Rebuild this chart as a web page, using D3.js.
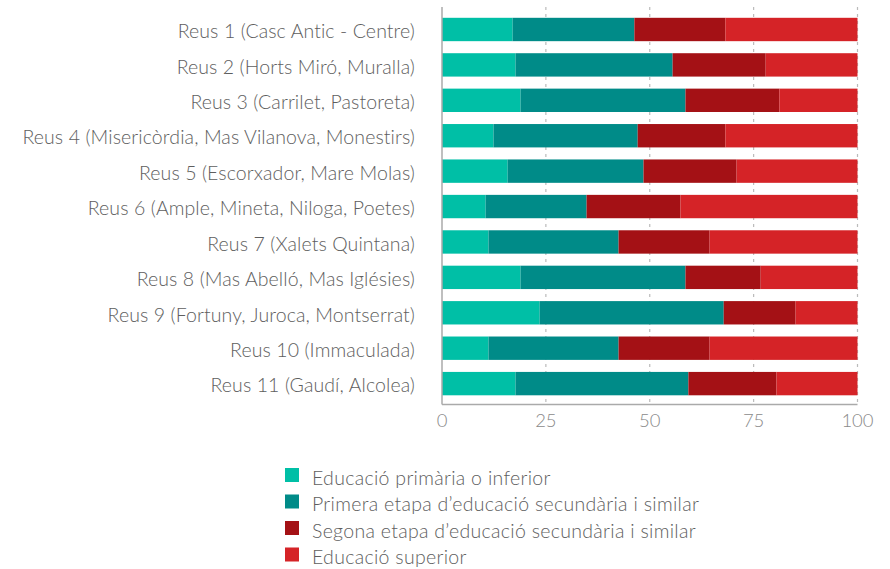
<!doctype html>
<html>
<head>
<meta charset="utf-8">
<script src="https://cdnjs.cloudflare.com/ajax/libs/d3/7.8.5/d3.min.js"></script>
<style>
  body { margin: 0; background: #fff; }
  text { font-family: Lato, "Open Sans", sans-serif; font-weight: 300; fill: #5e5e5e; }
</style>
</head>
<body>
<div id="chart-area"></div>
<script>
// Districtes
var categories = [
  "Reus 1 (Casc Antic - Centre)",
  "Reus 2 (Horts Miró, Muralla)",
  "Reus 3 (Carrilet, Pastoreta)",
  "Reus 4 (Misericòrdia, Mas Vilanova, Monestirs)",
  "Reus 5 (Escorxador, Mare Molas)",
  "Reus 6 (Ample, Mineta, Niloga, Poetes)",
  "Reus 7 (Xalets Quintana)",
  "Reus 8 (Mas Abelló, Mas Iglésies)",
  "Reus 9 (Fortuny, Juroca, Montserrat)",
  "Reus 10 (Immaculada)",
  "Reus 11 (Gaudí, Alcolea)"
];
var seriesNames = [
  "Educació primària o inferior",
  "Primera etapa d’educació secundària i similar",
  "Segona etapa d’educació secundària i similar",
  "Educació superior"
];
// percentatges per nivell
var primaria   = [17.0, 17.7, 18.9, 12.4, 15.8, 10.5, 11.2, 18.9, 23.5, 11.2, 17.7];
var secundaria1 = [29.3, 37.8, 39.7, 34.7, 32.7, 24.3, 31.3, 39.7, 44.3, 31.3, 41.6];
var secundaria2 = [21.9, 22.4, 22.6, 21.1, 22.4, 22.6, 21.9, 18.1, 17.3, 21.9, 21.2];
var superior   = [31.8, 22.1, 18.8, 31.8, 29.1, 42.6, 35.6, 23.3, 14.9, 35.6, 19.5];
var xTicks = [0, 25, 50, 75, 100];

var colours = ["#00bfa6", "#008b88", "#a41115", "#d52327"];

var width = 890, height = 569;

var svg = d3.select("#chart-area").append("svg")
  .attr("width", width)
  .attr("height", height);

var rows = categories.map(function(c, i) {
  return { cat: c, v: [primaria[i], secundaria1[i], secundaria2[i], superior[i]] };
});
var keys = [0, 1, 2, 3];
var stacked = d3.stack()
  .keys(keys)
  .value(function(d, k) { return d.v[k]; })(rows);

var x = d3.scaleLinear().domain([0, 100]).range([442, 857.5]);
var y = d3.scaleBand().domain(categories).range([17.8, 395.3])
  .paddingInner(0.34).paddingOuter(0);

var plotTop = 7, plotBottom = 404.5;

// gridlines
svg.append("g").selectAll("line")
  .data(xTicks.slice(1))
  .enter().append("line")
  .attr("x1", function(d) { return x(d); })
  .attr("x2", function(d) { return x(d); })
  .attr("y1", plotTop)
  .attr("y2", plotBottom)
  .attr("stroke", "#bbb")
  .attr("stroke-width", 1.2)
  .attr("stroke-dasharray", "3,4");

// bars
svg.append("g").selectAll("g")
  .data(stacked)
  .enter().append("g")
  .attr("fill", function(d) { return colours[d.key]; })
  .selectAll("rect")
  .data(function(d) { return d; })
  .enter().append("rect")
  .attr("x", function(d) { return x(d[0]); })
  .attr("width", function(d) { return x(d[1]) - x(d[0]); })
  .attr("y", function(d) { return y(d.data.cat); })
  .attr("height", y.bandwidth());

// axes
svg.append("line")
  .attr("x1", x(0)).attr("x2", x(0))
  .attr("y1", plotTop).attr("y2", plotBottom)
  .attr("stroke", "#aaa").attr("stroke-width", 1.5);
svg.append("line")
  .attr("x1", x(0)).attr("x2", x(100))
  .attr("y1", plotBottom).attr("y2", plotBottom)
  .attr("stroke", "#aaa").attr("stroke-width", 1.5);

svg.append("g").selectAll("text")
  .data(xTicks)
  .enter().append("text")
  .attr("x", function(d) { return x(d); })
  .attr("y", 427)
  .attr("text-anchor", "middle")
  .attr("font-size", "18.5px")
  .style("fill", "#8a8a8a")
  .text(function(d) { return d; });

svg.append("g").selectAll("text")
  .data(categories)
  .enter().append("text")
  .attr("x", 415)
  .attr("y", function(d) { return y(d) + y.bandwidth() / 2; })
  .attr("dy", "0.45em")
  .attr("text-anchor", "end")
  .attr("font-size", "19.5px")
  .style("letter-spacing", "0.1px")
  .text(function(d) { return d; });

// legend
var legend = svg.append("g").attr("transform", "translate(285, 468)");
seriesNames.forEach(function(name, i) {
  var row = legend.append("g").attr("transform", "translate(0," + (i * 26.5) + ")");
  row.append("rect")
    .attr("width", 14).attr("height", 14)
    .attr("fill", colours[i]);
  row.append("text")
    .attr("x", 27).attr("y", 8)
    .attr("dy", "0.45em")
    .attr("font-size", "19.5px")
    .style("letter-spacing", "0.3px")
    .text(name);
});
</script>
</body>
</html>
